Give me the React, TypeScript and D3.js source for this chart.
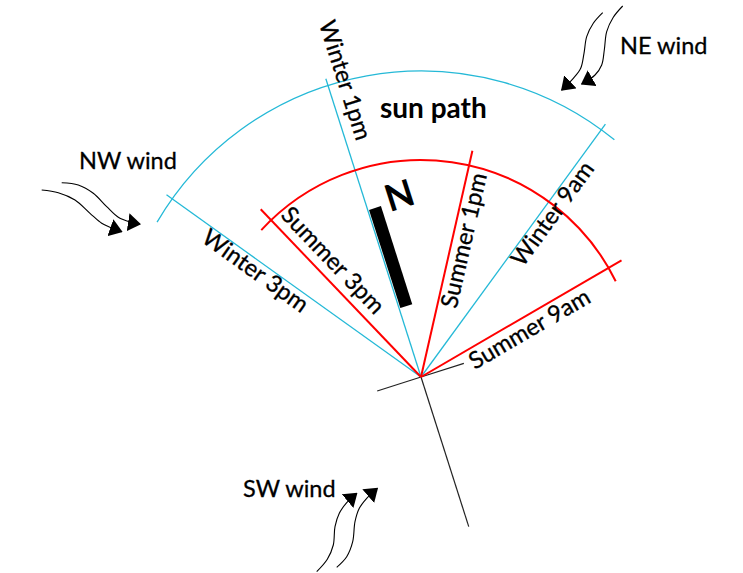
import React from "react";
import * as d3 from "d3";

const W = 743;
const H = 573;
const CENTER: [number, number] = [421, 377];

// Sun path rays (degrees clockwise from the diagram's up direction)
const winterLabels = ["Winter 3pm", "Winter 1pm", "Winter 9am"];
const winterAngles = [-54.4, -17.7, 36.1];
const summerLabels = ["Summer 3pm", "Summer 1pm", "Summer 9am"];
const summerAngles = [-43.7, 12.8, 59.8];

// arcs: [start angle, end angle]
const winterArcSpan = [-59.6, 39.2];
const summerArcSpan = [-47.4, 63.8];

// north axis
const northAngle = -17.7;

// wind labels
const windLabels = ["NW wind", "NE wind", "SW wind"];

// wind arrows (points along each curved arrow, tip last)
const nwWindA: [number, number][] = [[41.7, 190], [58.3, 192.7], [75, 200], [90, 213.3], [101.7, 223.3], [110, 227.3], [121.7, 231.7]];
const nwWindB: [number, number][] = [[61.7, 182.7], [78.3, 185], [93.3, 193.3], [106.7, 206.7], [118.3, 217.3], [130, 222], [140, 224]];
const neWindA: [number, number][] = [[602.7, 12.7], [593.3, 23.3], [586.7, 36.7], [584, 53.3], [580.7, 68.3], [573.3, 78.3], [561.7, 90]];
const neWindB: [number, number][] = [[622.7, 6], [613.3, 17.3], [606.7, 31.7], [604.3, 50], [601.7, 65], [595, 75], [581.7, 84]];
const swWindA: [number, number][] = [[316.7, 571.7], [327.3, 559.3], [333.3, 545], [335, 526.7], [339.3, 513.3], [346.7, 502.7], [356.7, 493.3]];
const swWindB: [number, number][] = [[336.7, 567.3], [346.7, 556.7], [352.7, 541.7], [355, 521.7], [359.3, 508.3], [366.7, 498.3], [377.3, 488.3]];

// layout
const R_WINTER_ARC = 306;
const R_WINTER_RAY = 313;
const R_SUMMER_ARC = 217;
const R_SUMMER_RAY = 232;
const CYAN = "#25b9d7";
const RED = "#ff0000";
const FONT = "Lato, 'Open Sans', sans-serif";

// label layout: [along, perp, inward]
const winterLabelPos: [number, number, boolean][] = [[258.6, -18, true], [368, 10, true], [148, 18, false]];
const summerLabelPos: [number, number, boolean][] = [[214, 9, true], [74, 19.6, false], [50, 21, false]];

const rad = d3.scaleLinear().domain([0, 180]).range([0, Math.PI]);

function rayEnd(angle: number, r: number): [number, number] {
  const a = rad(angle);
  return [Math.sin(a) * r, -Math.cos(a) * r];
}

function arcPath(span: number[], r: number) {
  const p = d3.path();
  const a0 = rad(span[0] - 90);
  const a1 = rad(span[1] - 90);
  p.moveTo(Math.cos(a0) * r, Math.sin(a0) * r);
  p.arc(0, 0, r, a0, a1, false);
  return p.toString();
}

const windLine = d3.line<[number, number]>().curve(d3.curveCatmullRom.alpha(0.5));

function RayLabel({ angle, label, pos }: { angle: number; label: string; pos: [number, number, boolean] }) {
  const [along, perp, inward] = pos;
  return (
    <g transform={`rotate(${angle})`}>
      <text
        transform={`translate(${perp},${-along}) rotate(${inward ? 90 : -90})`}
        fontFamily={FONT}
        fontSize={23.6}
        fill="#000"
        stroke="#000"
        strokeWidth={0.3}
      >
        {label}
      </text>
    </g>
  );
}

export default function App() {
  const [cx, cy] = CENTER;
  const winds = [nwWindA, nwWindB, neWindA, neWindB, swWindA, swWindB];
  return (
    <svg
      width={W}
      height={H}
      viewBox={`0 0 ${W} ${H}`}
      style={{ position: "absolute", left: 0, top: 0, background: "#fff" }}
    >
      <defs>
        <marker id="head" viewBox="0 0 13 18" refX={12} refY={9} markerWidth={13} markerHeight={18} markerUnits="userSpaceOnUse" orient="auto">
          <path d="M0,0 L13,9 L0,18 Z" fill="#000" />
        </marker>
      </defs>
      <rect width={W} height={H} fill="#fff" />

      <g transform={`translate(${cx},${cy})`}>
        {/* black compass cross */}
        {[northAngle + 180, northAngle + 90, northAngle - 90].map((a, i) => {
          const [x, y] = rayEnd(a, i === 0 ? 157 : i === 1 ? 45 : 46);
          return <line key={i} x1={0} y1={0} x2={x} y2={y} stroke="#222" strokeWidth={1.2} />;
        })}

        {/* winter (cyan) */}
        <path d={arcPath(winterArcSpan, R_WINTER_ARC)} fill="none" stroke={CYAN} strokeWidth={1.3} />
        {winterAngles.map((a, i) => {
          const [x, y] = rayEnd(a, R_WINTER_RAY);
          return <line key={i} x1={0} y1={0} x2={x} y2={y} stroke={CYAN} strokeWidth={1.3} />;
        })}

        {/* summer (red) */}
        <path d={arcPath(summerArcSpan, R_SUMMER_ARC)} fill="none" stroke={RED} strokeWidth={2} />
        {summerAngles.map((a, i) => {
          const [x, y] = rayEnd(a, R_SUMMER_RAY);
          return <line key={i} x1={0} y1={0} x2={x} y2={y} stroke={RED} strokeWidth={2} />;
        })}

        {/* north bar */}
        <g transform={`rotate(${northAngle})`}>
          <rect x={1.3} y={-175} width={12.5} height={103} fill="#000" />
          <text x={34.6} y={-181} textAnchor="middle" dominantBaseline="central" fontFamily={FONT} fontWeight="bold" fontSize={37}>
            N
          </text>
        </g>

        {winterLabels.map((l, i) => (
          <RayLabel key={l} angle={winterAngles[i]} label={l} pos={winterLabelPos[i]} />
        ))}
        {summerLabels.map((l, i) => (
          <RayLabel key={l} angle={summerAngles[i]} label={l} pos={summerLabelPos[i]} />
        ))}
      </g>

      <text x={380} y={118} fontFamily={FONT} fontWeight="bold" fontSize={28}>
        sun path
      </text>

      <text x={79} y={169} fontFamily={FONT} fontSize={23.5} stroke="#000" strokeWidth={0.3}>{windLabels[0]}</text>
      <text x={620} y={54} fontFamily={FONT} fontSize={23.5} stroke="#000" strokeWidth={0.3}>{windLabels[1]}</text>
      <text x={243} y={497} fontFamily={FONT} fontSize={23.5} stroke="#000" strokeWidth={0.3}>{windLabels[2]}</text>

      {winds.map((pts, i) => (
        <path key={i} d={windLine(pts) || ""} fill="none" stroke="#000" strokeWidth={1.1} markerEnd="url(#head)" />
      ))}
    </svg>
  );
}
